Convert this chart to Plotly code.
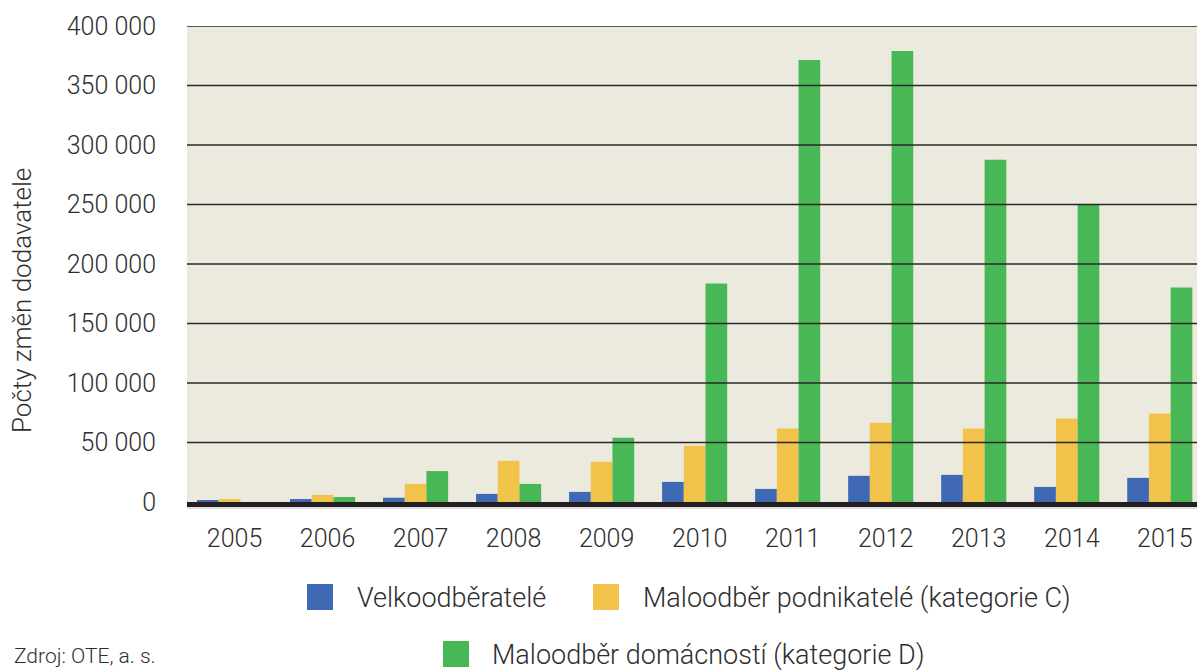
import plotly.graph_objects as go

years = ["2005", "2006", "2007", "2008", "2009", "2010", "2011", "2012", "2013", "2014", "2015"]
velko = [1000, 2500, 3600, 6800, 8500, 16900, 11000, 22000, 22800, 12700, 20300]
podnik = [2500, 6000, 15200, 34600, 33800, 47300, 61700, 66700, 61700, 70100, 74300]
domac = [0, 4200, 26000, 15200, 54000, 183600, 371500, 379000, 287600, 249600, 180200]
series_names = ["Velkoodběratelé", "Maloodběr podnikatelé (kategorie C)", "Maloodběr domácností (kategorie D)"]
colors = ["#3F69B4", "#F2C34A", "#48B857"]
tick_vals = [0, 50000, 100000, 150000, 200000, 250000, 300000, 350000, 400000]
tick_text = ["0", "50 000", "100 000", "150 000", "200 000", "250 000", "300 000", "350 000", "400 000"]
y_title = "Počty změn dodavatele"
source = "Zdroj: OTE, a. s."

W, H = 1197, 670
L, R, T, B = 187, 0, 26, 163
PW = W - L - R
PH = H - T - B


def px(x):
    return (x - L) / PW


def py(y):
    return (H - B - y) / PH


FONT = "Roboto"
TXT = "#2e2e2e"

fig = go.Figure()
for name, vals, c in zip(series_names, [velko, podnik, domac], colors):
    fig.add_trace(go.Bar(x=years, y=vals, name=name, marker=dict(color=c, line=dict(width=0)),
                         showlegend=False))

shapes = []
for v in tick_vals[1:]:
    shapes.append(dict(type="line", xref="paper", x0=0, x1=1, yref="y", y0=v, y1=v,
                       line=dict(color="#2a2826", width=1.6), layer="above"))
shapes.append(dict(type="rect", xref="paper", x0=0, x1=1, yref="y", y0=-4200, y1=0,
                   fillcolor="#231f20", line=dict(width=0), layer="above"))
shapes.append(dict(type="line", xref="paper", x0=0, x1=1, yref="paper", y0=py(508), y1=py(508),
                   line=dict(color="#bdbdbd", width=1.2), layer="above"))

# manual legend
legend_pos = [(307, 597, 355), (593, 597, 641), (443, 654, 490)]
annotations = []
for (sx, sy, tx), name, c in zip(legend_pos, series_names, colors):
    shapes.append(dict(type="rect", xref="paper", yref="paper",
                       x0=px(sx), x1=px(sx + 26), y0=py(sy - 13), y1=py(sy + 13),
                       fillcolor=c, line=dict(width=0)))
    annotations.append(dict(xref="paper", yref="paper", x=px(tx), y=py(sy + 1), text=name,
                            showarrow=False, xanchor="left", yanchor="middle",
                            font=dict(family=FONT, size=27, color=TXT, weight=300)))

annotations.append(dict(xref="paper", yref="paper", x=px(12), y=py(656), text=source,
                        showarrow=False, xanchor="left", yanchor="middle",
                        font=dict(family=FONT, size=21, color=TXT, weight=300)))
annotations.append(dict(xref="paper", yref="paper", x=px(22), y=py(301), text=y_title,
                        textangle=-90, showarrow=False, xanchor="center", yanchor="middle",
                        font=dict(family=FONT, size=26, color=TXT, weight=300)))

fig.update_layout(
    width=W, height=H,
    margin=dict(l=L, r=R, t=T, b=B, pad=0),
    paper_bgcolor="white",
    plot_bgcolor="#ECEADE",
    barmode="group",
    bargap=0.3,
    bargroupgap=0,
    shapes=shapes,
    annotations=annotations,
    font=dict(family=FONT, color=TXT),
    xaxis=dict(type="category", range=[-0.457, 10.40], showgrid=False, zeroline=False,
               showline=False, ticks="", ticklabelstandoff=14, ticklabelshift=5,
               tickfont=dict(family=FONT, size=25, color=TXT, weight=300)),
    yaxis=dict(range=[-4200, 400000], tickvals=tick_vals, ticktext=tick_text,
               showgrid=False, zeroline=False, showline=False, ticks="",
               ticklabelstandoff=30,
               tickfont=dict(family=FONT, size=25, color=TXT, weight=300)),
)

fig.write_html("out.html", config={"displayModeBar": False},
               post_script="document.body.style.margin='0';document.body.style.overflow='hidden';")
